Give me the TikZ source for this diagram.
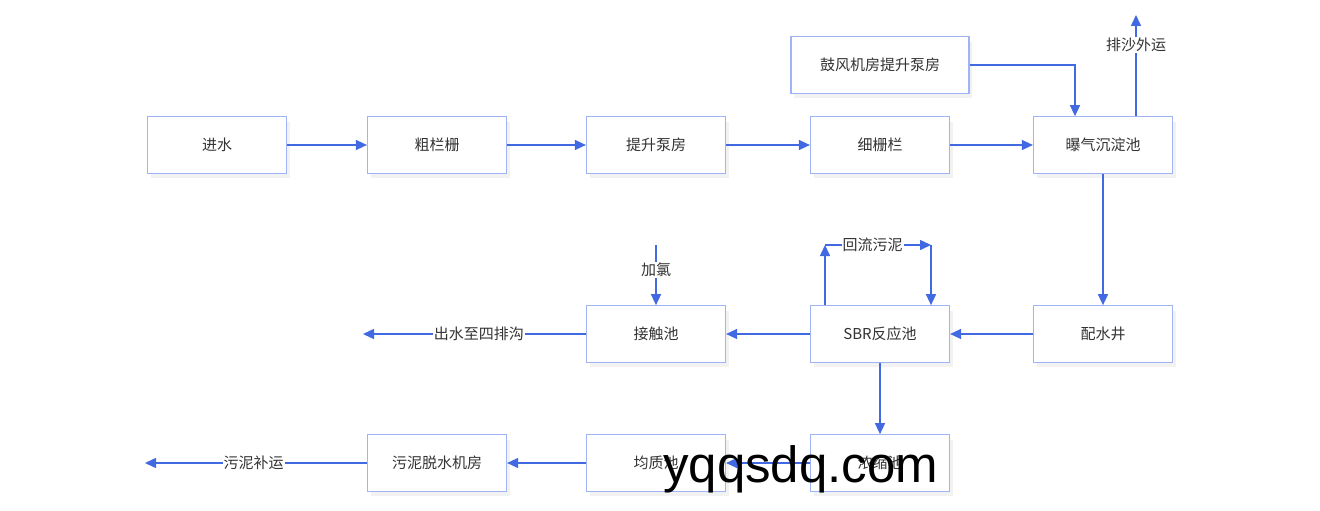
\documentclass[tikz,border=0pt]{standalone}
\usepackage{fontspec}
\setmainfont{Liberation Sans}
\newfontfamily\cjk{Noto Sans CJK SC}
\usetikzlibrary{arrows.meta,shadows}
\definecolor{boxline}{HTML}{9FB3F7}
\definecolor{arrowc}{HTML}{4169E1}
\definecolor{txt}{HTML}{333333}
\tikzset{
  box/.style={draw=boxline, line width=1.2pt, fill=white, minimum width=139pt, minimum height=56.5pt,
    inner sep=0pt, font=\cjk\fontsize{15}{18}\selectfont, text=txt,
    drop shadow={shadow xshift=3pt, shadow yshift=-5pt, opacity=0.05, fill=black}},
  flow/.style={draw=arrowc, line width=1.5pt, -{Triangle[length=11pt,width=10pt]}},
  plain/.style={draw=arrowc, line width=1.5pt},
  elabel/.style={fill=white, inner sep=1pt, font=\cjk\fontsize{15}{18}\selectfont, text=txt},
}
\begin{document}
\begin{tikzpicture}[x=1pt,y=-1pt]
\useasboundingbox (0,0) rectangle (1320,511);
% row 1
\node[box] (in) at (217,145) {进水};
\node[box] (cu) at (437,145) {粗栏栅};
\node[box] (ts) at (656,145) {提升泵房};
\node[box] (xi) at (880,145) {细栅栏};
\node[box] (bq) at (1103,145) {曝气沉淀池};
\node[box, minimum width=178pt] (gf) at (880,65) {鼓风机房提升泵房};
% row 2
\node[box] (ps) at (1103,334) {配水井};
\node[box] (sbr) at (880,334) {SBR反应池};
\node[box] (jc) at (656,334) {接触池};
% row 3
\node[box] (ns) at (880,463) {浓缩池};
\node[box] (jz) at (656,463) {均质池};
\node[box] (wn) at (437,463) {污泥脱水机房};
% free ends
\coordinate (sand) at (1136,15);
\coordinate (outw) at (363,334);
\coordinate (cl) at (656,245);
\coordinate (rl) at (825,245);
\coordinate (rr) at (931,245);
\coordinate (outs) at (145,463);
% connectors
\draw[flow] (in) -- (cu);
\draw[flow] (cu) -- (ts);
\draw[flow] (ts) -- (xi);
\draw[flow] (xi) -- (bq);
\draw[flow] (gf.east) -| ([xshift=-28pt]bq.north);
\draw[flow] ([xshift=33pt]bq.north) -- node[elabel, pos=0.7] {排沙外运} (sand);
\draw[flow] (bq) -- (ps);
\draw[flow] (ps) -- (sbr);
\draw[flow] (sbr) -- (jc);
\draw[flow] (jc) -- node[elabel, pos=0.48] {出水至四排沟} (outw);
\draw[flow] (cl) -- node[elabel, pos=0.42] {加氯} (jc);
\draw[flow] ([xshift=-55pt]sbr.north) -- (rl);
\draw[flow] (rl) -- node[elabel, pos=0.45] {回流污泥} (rr);
\draw[flow] (rr) -- ([xshift=51pt]sbr.north);
\draw[flow] ([xshift=0pt]sbr.south) -- (ns);
\draw[flow] (ns) -- (jz);
\draw[flow] (jz) -- (wn);
\draw[flow] (wn) -- node[elabel, pos=0.51] {污泥补运} (outs);
% watermark
\node[anchor=base west, inner sep=0pt, font=\fontsize{51}{55}\selectfont, text=black] (wm) at (663,482) {yqqsdq.com};
\end{tikzpicture}
\end{document}
